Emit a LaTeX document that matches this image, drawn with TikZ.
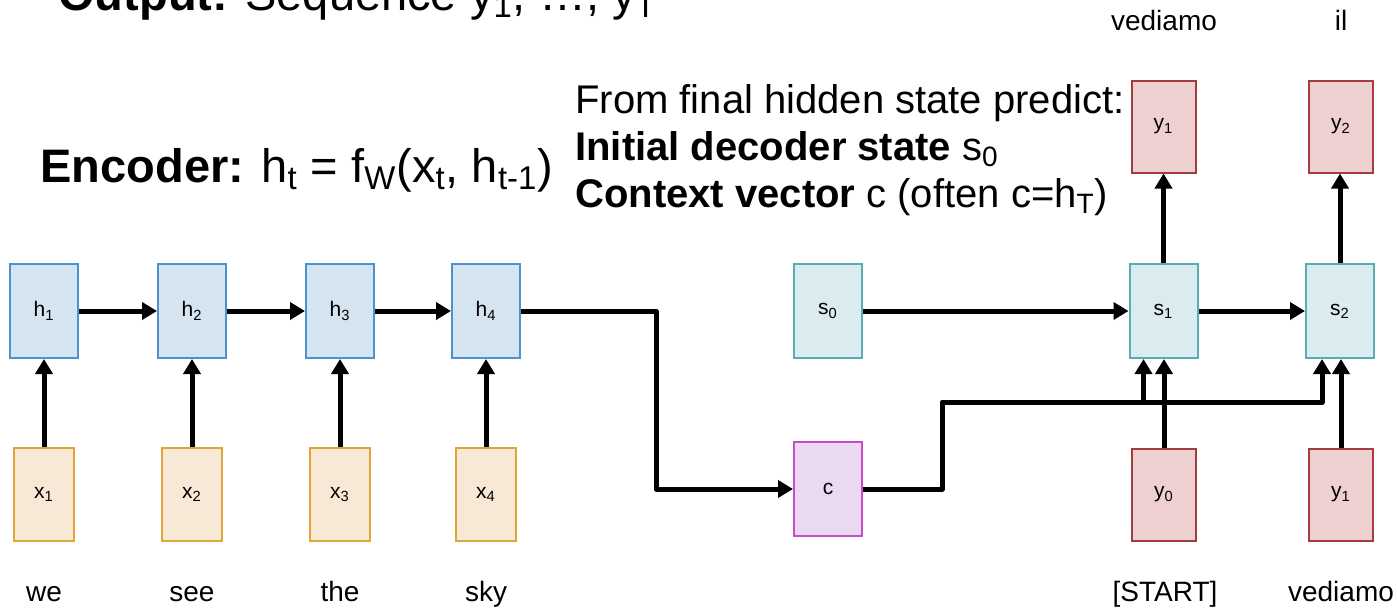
\documentclass[tikz,border=0pt]{standalone}
\usepackage{fontspec}
\setmainfont{Liberation Sans}
\usetikzlibrary{arrows.meta,calc}
\definecolor{hfill}{HTML}{D5E4F1}
\definecolor{hdraw}{HTML}{4F91CD}
\definecolor{xfill}{HTML}{F7E9D5}
\definecolor{xdraw}{HTML}{E0A43C}
\definecolor{sfill}{HTML}{DAECEF}
\definecolor{sdraw}{HTML}{5BAAB8}
\definecolor{cfill}{HTML}{EAD9F1}
\definecolor{cdraw}{HTML}{C64CC9}
\definecolor{yfill}{HTML}{EFD0D1}
\definecolor{ydraw}{HTML}{A33B3F}
\tikzset{
  box/.style={line width=1pt, inner sep=0pt, minimum width=34pt, minimum height=47pt,
    font=\fontsize{10.5}{12}\selectfont},
  hbox/.style={box, fill=hfill, draw=hdraw},
  xbox/.style={box, fill=xfill, draw=xdraw, minimum width=30pt, minimum height=46.5pt},
  sbox/.style={box, fill=sfill, draw=sdraw},
  cbox/.style={box, fill=cfill, draw=cdraw},
  ybox/.style={box, fill=yfill, draw=ydraw, minimum width=32pt, minimum height=46pt},
  conn/.style={line width=2.5pt, line join=round},
  arr/.style={conn, -{Triangle[length=7.5pt,width=8.5pt]}},
  word/.style={inner sep=0pt, anchor=base, font=\fontsize{14}{16}\selectfont},
  big/.style={inner sep=0pt, anchor=base west, font=\fontsize{23.5}{27}\selectfont},
  mid/.style={inner sep=0pt, anchor=base west, font=\fontsize{20}{24}\selectfont},
}
\begin{document}
\begin{tikzpicture}[x=0.5pt,y=-0.5pt]
\useasboundingbox (0,0) rectangle (1397,607);
\clip (0,0) rectangle (1397,607);
% texts
\node[big] (out) at (58,10) {\textbf{Output:} Sequence y\textsubscript{1}, …, y\textsubscript{T}};
\node[big] (enc) at (40,182) {\textbf{Encoder:} h\textsubscript{t} = f\textsubscript{W}(x\textsubscript{t}, h\textsubscript{t-1})};
\node[mid] (l1) at (575,113) {From final hidden state predict:};
\node[mid] (l2) at (575,160) {\textbf{Initial decoder state} s\textsubscript{0}};
\node[mid] (l3) at (575,207) {\textbf{Context vector} c (often c=h\textsubscript{T})};
% encoder
\node[hbox] (h1) at (44,311) {h\textsubscript{1}};
\node[hbox] (h2) at (192,311) {h\textsubscript{2}};
\node[hbox] (h3) at (340,311) {h\textsubscript{3}};
\node[hbox] (h4) at (486,311) {h\textsubscript{4}};
\node[xbox] (x1) at (44,494.5) {x\textsubscript{1}};
\node[xbox] (x2) at (192,494.5) {x\textsubscript{2}};
\node[xbox] (x3) at (340,494.5) {x\textsubscript{3}};
\node[xbox] (x4) at (486,494.5) {x\textsubscript{4}};
\node[word] (w1) at (44,601) {we};
\node[word] (w2) at (192,601) {see};
\node[word] (w3) at (340,601) {the};
\node[word] (w4) at (486,601) {sky};
% decoder
\node[sbox] (s0) at (828,311) {s\textsubscript{0}};
\node[cbox] (c) at (828,489) {c};
\node[sbox] (s1) at (1163.5,311) {s\textsubscript{1}};
\node[sbox] (s2) at (1340,311) {s\textsubscript{2}};
\node[ybox] (y0) at (1164,494.5) {y\textsubscript{0}};
\node[ybox] (y1b) at (1341,494.5) {y\textsubscript{1}};
\node[ybox] (y1t) at (1163.5,126.5) {y\textsubscript{1}};
\node[ybox] (y2t) at (1341,126.5) {y\textsubscript{2}};
\node[word] (start) at (1165,601) {[START]};
\node[word] (w5) at (1341,601) {vediamo};
\node[word] (o1) at (1164,30) {vediamo};
\node[word] (o2) at (1341,30) {il};
% connectors encoder
\foreach \i in {1,2,3,4} {\draw[arr] (x\i) -- (h\i);}
\draw[arr] (h1) -- (h2);
\draw[arr] (h2) -- (h3);
\draw[arr] (h3) -- (h4);
\coordinate (hc) at (656,311);
\draw[arr] (h4.east) -- (hc) |- (c.west);
% decoder connectors
\draw[arr] (s0) -- (s1);
\draw[arr] (s1) -- (s2);
\coordinate (cb) at (942,402);
\coordinate (s1in) at ($(s1.south)+(-20,0)$);
\coordinate (s2in) at ($(s2.south)+(-18,0)$);
\draw[arr] (c.east) -| (cb) -| (s2in);
\draw[arr] (s1in |- cb) -- (s1in);
\draw[arr] (y0.north) -- (y0.north |- s1.south);
\draw[arr] (y1b.north) -- (y1b.north |- s2.south);
\draw[arr] (s1.north) -- (s1.north |- y1t.south);
\draw[arr] (s2.north) -- (s2.north |- y2t.south);
\end{tikzpicture}
\end{document}
